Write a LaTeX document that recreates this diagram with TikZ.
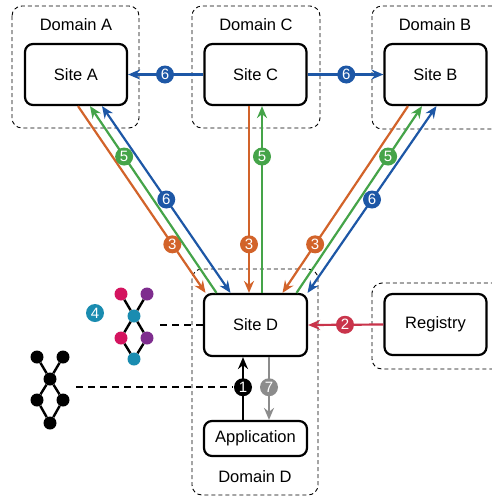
\documentclass[tikz,border=0pt]{standalone}
\usepackage{fontspec}
\setmainfont{Liberation Sans}
\usetikzlibrary{arrows.meta}
\definecolor{corange}{HTML}{D2632A}
\definecolor{cgreen}{HTML}{45A449}
\definecolor{cblue}{HTML}{1D57A6}
\definecolor{cred}{HTML}{C9344B}
\definecolor{cgray}{HTML}{8C8C8C}
\definecolor{cteal}{HTML}{1A8CB0}
\definecolor{cmag}{HTML}{D4145F}
\definecolor{cpurp}{HTML}{7E2D8E}
\begin{document}
\begin{tikzpicture}[x=1pt,y=-1pt,
  site/.style={draw=black, line width=2.2pt, rounded corners=8pt, minimum width=102pt,
    minimum height=61pt, inner sep=0pt, font=\fontsize{16.5}{19}\selectfont},
  domainbox/.style={draw=black, line width=0.9pt, dash pattern=on 4pt off 3pt, rounded corners=10pt},
  dlabel/.style={font=\fontsize{16.5}{19}\selectfont},
  tip/.tip={Stealth[length=12pt,width=10pt,inset=4pt]},
  flow/.style={line width=2.2pt, -tip},
  biflow/.style={line width=2.2pt, tip-tip},
  badge/.style={circle, fill=#1, text=white, inner sep=0pt, minimum size=18pt,
    font=\fontsize{15}{15}\selectfont},
  gnode/.style={circle, fill=#1, inner sep=0pt, minimum size=13pt},
  gedge/.style={line width=2.4pt, black},
  link/.style={line width=2.5pt, dash pattern=on 7pt off 5pt},
]
\clip (0,0) rectangle (492,496);
\fill[white] (0,0) rectangle (492,496);

% administrative domains
\draw[domainbox] (12,6) rectangle (139,128);
\draw[domainbox] (192,6) rectangle (320,128);
\draw[domainbox] (372,6) rectangle (520,129);
\draw[domainbox] (192,269) rectangle (318,495);
\draw[domainbox] (372,283) rectangle (520,369);

\node[dlabel] (labA) at (76,25) {Domain A};
\node[dlabel] (labC) at (256,25) {Domain C};
\node[dlabel] (labB) at (435,25) {Domain B};
\node[dlabel] (labD) at (255,477) {Domain D};

% sites
\node[site] (siteA) at (76,74.5) {Site A};
\node[site] (siteC) at (255.5,74.5) {Site C};
\node[site] (siteB) at (435.5,74.5) {Site B};
\node[site, minimum width=103pt, minimum height=62pt] (siteD) at (255.5,325) {Site D};
\node[site, minimum width=103pt, minimum height=35pt] (app) at (255.5,438.5) {Application};
\node[site] (reg) at (435.5,324.5) {Registry};

% Site C to A and B
\draw[flow, cblue] (siteC.west) -- node[badge=cblue, pos=.51] {6} (siteA.east);
\draw[flow, cblue] (siteC.east) -- node[badge=cblue, pos=.51] {6} (siteB.west);

% Site A <-> Site D
\draw[flow, corange] ([xshift=2pt]siteA.south) -- node[badge=corange, pos=.74] {3} ([xshift=-50pt]siteD.north);
\draw[flow, cgreen] ([xshift=-39pt]siteD.north) -- node[badge=cgreen, pos=.73] {5} ([xshift=14pt]siteA.south);
\draw[biflow, cblue] ([xshift=-25pt]siteD.north) -- node[badge=cblue, pos=.5] {6} ([xshift=26pt]siteA.south);

% Site C <-> Site D
\draw[flow, corange] ([xshift=-6.5pt]siteC.south) -- node[badge=corange, pos=.74] {3} ([xshift=-6.5pt]siteD.north);
\draw[flow, cgreen] ([xshift=6.5pt]siteD.north) -- node[badge=cgreen, pos=.73] {5} ([xshift=6.5pt]siteC.south);

% Site B <-> Site D
\draw[flow, corange] ([xshift=-27.5pt]siteB.south) -- node[badge=corange, pos=.74] {3} ([xshift=27pt]siteD.north);
\draw[flow, cgreen] ([xshift=41pt]siteD.north) -- node[badge=cgreen, pos=.73] {5} ([xshift=-13.5pt]siteB.south);
\draw[biflow, cblue] ([xshift=52pt]siteD.north) -- node[badge=cblue, pos=.5] {6} ([xshift=1pt]siteB.south);

% Registry to Site D
\draw[flow, cred] (reg.west) -- node[badge=cred, pos=.51] {2} (siteD.east);

% Application <-> Site D
\draw[flow, black] ([xshift=-12.5pt]app.north) -- node[badge=black, pos=.52] (b1) {1} ([xshift=-12.5pt]siteD.south);
\draw[flow, cgray] ([xshift=13.5pt]siteD.south) -- node[badge=cgray, pos=.48] {7} ([xshift=13.5pt]app.north);

% coloured workflow graph
\node[badge=cteal] (b4) at (95,313) {4};
\node[gnode=cmag]  (c1) at (121,294) {};
\node[gnode=cpurp] (c2) at (147,294) {};
\node[gnode=cteal] (c3) at (134,316) {};
\node[gnode=cmag]  (c4) at (121,338) {};
\node[gnode=cpurp] (c5) at (147,338) {};
\node[gnode=cteal] (c6) at (134,359) {};
\draw[gedge] (c1) -- (c3) (c2) -- (c3) (c3) -- (c4) (c3) -- (c5) (c4) -- (c6) (c5) -- (c6);
\coordinate (g4end) at (160,325);
\draw[link] (g4end) -- (siteD.west);

% black workflow graph
\node[gnode=black] (k1) at (37,357) {};
\node[gnode=black] (k2) at (63,357) {};
\node[gnode=black] (k3) at (50,379) {};
\node[gnode=black] (k4) at (37,400) {};
\node[gnode=black] (k5) at (63,400) {};
\node[gnode=black] (k6) at (50,423) {};
\draw[gedge] (k1) -- (k3) (k2) -- (k3) (k3) -- (k4) (k3) -- (k5) (k4) -- (k6) (k5) -- (k6);
\coordinate (g1end) at (76,0);
\draw[link] (g1end |- b1.west) -- (b1.west);
\end{tikzpicture}
\end{document}
